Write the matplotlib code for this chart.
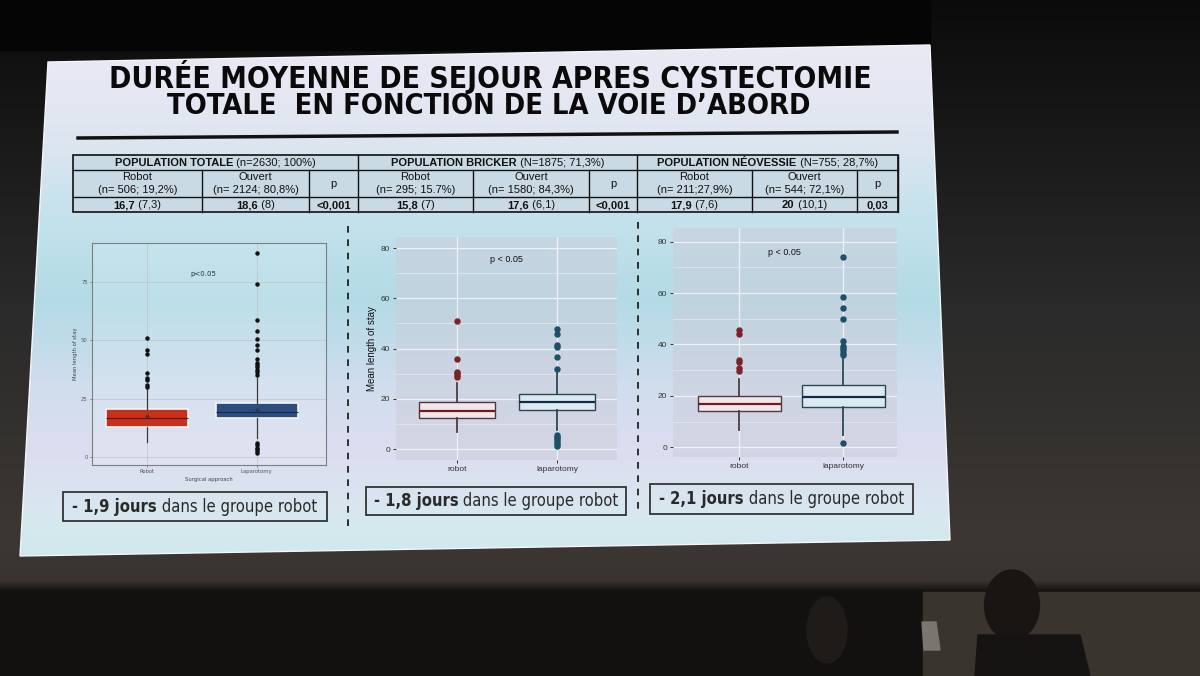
import matplotlib
matplotlib.use('Agg')
import matplotlib.pyplot as plt
import numpy as np
from matplotlib import font_manager
from matplotlib.patches import Polygon, Rectangle, Ellipse

# ---- donnees du tableau
group_names = ['POPULATION TOTALE', 'POPULATION BRICKER', 'POPULATION NÉOVESSIE']
group_sizes = [' (n=2630; 100%)', ' (N=1875; 71,3%)', ' (N=755; 28,7%)']
robot_n = ['(n= 506; 19,2%)', '(n= 295; 15.7%)', '(n= 211;27,9%)']
open_n = ['(n= 2124; 80,8%)', '(n= 1580; 84,3%)', '(n= 544; 72,1%)']
robot_mean = ['16,7', '15,8', '17,9']
robot_sd = [' (7,3)', ' (7)', ' (7,6)']
open_mean = ['18,6', '17,6', '20']
open_sd = [' (8)', ' (6,1)', ' (10,1)']
p_values = ['<0,001', '<0,001', '0,03']
diff_days = ['- 1,9 jours', '- 1,8 jours', '- 2,1 jours']

# ---- boxplot 1 (population totale)
p1_labels = ['Robot', 'Laparotomy']
p1_q1 = [12.8, 16.6]
p1_med = [16.7, 19.5]
p1_q3 = [20.6, 23.3]
p1_lo = [6.6, 8.0]
p1_hi = [29.5, 34.0]
p1_mean = [17.5, 20.3]
p1_fliers = [[30, 31, 33, 34, 36, 44, 46, 51],
             [1.7, 2.5, 3.3, 4, 5, 6, 35, 36.6, 37.5, 38.5, 39.5, 40.5, 42,
              46, 48, 50.5, 54.2, 58.8, 74.4, 87.7]]

# ---- boxplot 2 (bricker)
p2_labels = ['robot', 'laparotomy']
p2_q1 = [12.3, 15.4]
p2_med = [15.2, 18.7]
p2_q3 = [18.9, 22.0]
p2_lo = [7.0, 7.7]
p2_hi = [26.3, 31.6]
p2_fliers = [[28.9, 29.5, 30.2, 30.9, 35.9, 50.8],
             [1.3, 2, 2.8, 3.5, 4.3, 5, 5.7, 32, 36.7, 40.6, 41.3, 45.9, 48]]

# ---- boxplot 3 (neovessie)
p3_labels = ['robot', 'laparotomy']
p3_q1 = [14.1, 15.8]
p3_med = [16.9, 19.5]
p3_q3 = [20.1, 24.2]
p3_lo = [6.7, 4.8]
p3_hi = [26.4, 34.5]
p3_fliers = [[29.7, 30.7, 33, 33.9, 43.9, 45.6],
             [1.5, 35.9, 36.8, 37.7, 38.6, 39.5, 41.5, 50, 54.1, 58.5, 74.1]]

W, H = 1200, 676
fig = plt.figure(figsize=(12, 6.76), dpi=100)
fig.patch.set_facecolor('#141414')

bg = fig.add_axes([0, 0, 1, 1])
bg.set_xlim(0, W)
bg.set_ylim(H, 0)
bg.axis('off')
bg.set_zorder(0)

# police etroite si disponible (sinon Liberation Sans)
narrow = ('Liberation Sans', 'normal')
for f in font_manager.fontManager.ttflist:
    st = f.stretch
    if 'Narrow' in f.name or 'Condensed' in f.name or st in ('condensed', 'semi-condensed') \
            or (isinstance(st, int) and st < 500):
        narrow = (f.name, st)
        break


def vgrad(stops, n=400):
    ys = np.linspace(0, 1, n)
    pos = [s[0] for s in stops]
    cols = [matplotlib.colors.to_rgb(s[1]) for s in stops]
    arr = np.zeros((n, 1, 3))
    for k in range(3):
        arr[:, 0, k] = np.interp(ys, pos, [c[k] for c in cols])
    return arr


# salle (fond sombre)
room = vgrad([(0, '#0b0b0b'), (0.45, '#2a2a2a'), (0.8, '#3c3733'),
              (0.86, '#3a3430'), (0.875, '#141210'), (1, '#121110')])
bg.imshow(room, extent=(0, W, H, 0), aspect='auto', zorder=0)
bg.add_patch(Rectangle((923, 592), 277, 84, color='#3a342f', zorder=1))
bg.add_patch(Rectangle((0, 0), 930, 50, color='#050505', zorder=1))
# silhouettes
bg.add_patch(Ellipse((827, 630), 40, 66, color='#1f1b18', zorder=2))
bg.add_patch(Ellipse((1012, 605), 55, 70, color='#181513', zorder=2))
bg.add_patch(Polygon([(978, 635), (1080, 635), (1090, 676), (975, 676)],
                     color='#161412', zorder=2))
bg.add_patch(Polygon([(922, 622), (936, 622), (940, 650), (924, 650)],
                     color='#7a7570', zorder=2))

# diapositive
slide_pts = [(48, 62), (930, 45), (950, 540), (20, 556)]
slide = Polygon(slide_pts, closed=True, facecolor='none', edgecolor='#f4f6f8',
                lw=1.0, zorder=3)
bg.add_patch(slide)
sl = vgrad([(0, '#eae9f4'), (0.17, '#e0e6f1'), (0.34, '#c4e2ec'),
            (0.5, '#b3dbe6'), (0.66, '#cfdded'), (0.8, '#dddef0'),
            (0.93, '#d7e8ef'), (1, '#cfe9ee')])
im = bg.imshow(sl, extent=(20, 950, 556, 45), aspect='auto', zorder=2)
im.set_clip_path(slide)

renderer = fig.canvas.get_renderer()


def rich(x, y, parts, size, family='Liberation Sans', stretch='normal',
         color='#111111', target=None):
    # parts : liste de (texte, graisse) ; target : largeur voulue en pixels
    items = []
    for s, wgt in parts:
        t = bg.text(0, y, s, fontsize=size, fontweight=wgt, family=family,
                    fontstretch=stretch, color=color, ha='left', va='center',
                    zorder=6)
        items.append(t)
    total = sum(t.get_window_extent(renderer).width for t in items)
    if target:
        for t in items:
            t.set_fontsize(size * target / total)
    widths = [t.get_window_extent(renderer).width for t in items]
    x0 = x - sum(widths) / 2
    for t, w in zip(items, widths):
        t.set_x(x0)
        x0 += w


# titre
rich(490, 77, [('DURÉE MOYENNE DE SEJOUR APRES CYSTECTOMIE', 'bold')], 23,
     family=narrow[0], stretch=narrow[1], color='#0a0a0a', target=762)
rich(489, 106, [('TOTALE  EN FONCTION DE LA VOIE D\u2019ABORD', 'bold')], 23,
     family=narrow[0], stretch=narrow[1], color='#0a0a0a', target=644)
bg.plot([78, 897], [138, 132], color='#111111', lw=2.5, zorder=6)

# tableau
fs = 8.0
cols = [[73, 202, 309, 358], [358, 473, 589, 637], [637, 752, 857, 898]]
top, r1, r2, bot = 155, 170, 197, 212
bg.add_patch(Rectangle((73, top), 898 - 73, bot - top, facecolor='#c9dae5',
                       edgecolor='#111111', lw=1.2, zorder=4))
bg.plot([73, 898], [r1, r1], color='#111111', lw=1.0, zorder=5)
bg.plot([73, 898], [r2, r2], color='#111111', lw=1.0, zorder=5)
for g in range(3):
    c = cols[g]
    for xx in c[1:]:
        bg.plot([xx, xx], [r1 if xx != c[3] else top, bot], color='#111111',
                lw=1.0, zorder=5)
    rich((c[0] + c[3]) / 2, (top + r1) / 2 + 0.5,
         [(group_names[g], 'bold'), (group_sizes[g], 'normal')], fs)
    rich((c[0] + c[1]) / 2, 177.5, [('Robot', 'normal')], fs)
    rich((c[0] + c[1]) / 2, 190, [(robot_n[g], 'normal')], fs)
    rich((c[1] + c[2]) / 2, 177.5, [('Ouvert', 'normal')], fs)
    rich((c[1] + c[2]) / 2, 190, [(open_n[g], 'normal')], fs)
    rich((c[2] + c[3]) / 2, 184, [('p', 'normal')], fs)
    rich((c[0] + c[1]) / 2, 205, [(robot_mean[g], 'bold'), (robot_sd[g], 'normal')], fs)
    rich((c[1] + c[2]) / 2, 205, [(open_mean[g], 'bold'), (open_sd[g], 'normal')], fs)
    rich((c[2] + c[3]) / 2, 205, [(p_values[g], 'bold')], fs)

# separateurs
bg.plot([348, 348], [226, 532], color='#111111', lw=1.2, ls=(0, (4, 4)), zorder=5)
bg.plot([638, 638], [222, 515], color='#111111', lw=1.2, ls=(0, (4, 4)), zorder=5)

# encadres du bas
boxes = [(63, 492, 327, 521), (366, 487, 626, 515), (650, 484, 913, 514)]
for i, (x0, y0, x1, y1) in enumerate(boxes):
    bg.add_patch(Rectangle((x0, y0), x1 - x0, y1 - y0, facecolor='none',
                           edgecolor='#333333', lw=1.3, zorder=5))
    rich((x0 + x1) / 2, (y0 + y1) / 2,
         [(diff_days[i], 'bold'), (' dans le groupe robot', 'normal')], 12,
         family=narrow[0], stretch=narrow[1], color='#2a2a2a', target=245)


def px_axes(x0, y0, x1, y1):
    return fig.add_axes([x0 / W, 1 - y1 / H, (x1 - x0) / W, (y1 - y0) / H])


def stats(labels, q1, med, q3, lo, hi, fl, mean=None):
    out = []
    for i in range(len(q1)):
        d = dict(label=labels[i], q1=q1[i], med=med[i], q3=q3[i],
                 whislo=lo[i], whishi=hi[i], fliers=fl[i])
        if mean is not None:
            d['mean'] = mean[i]
        out.append(d)
    return out


# ---- panneau 1
ax1 = px_axes(92, 243, 326, 465)
ax1.set_zorder(2)
ax1.set_facecolor((1, 1, 1, 0.12))
b1 = ax1.bxp(stats(p1_labels, p1_q1, p1_med, p1_q3, p1_lo, p1_hi, p1_fliers, p1_mean),
             positions=[1, 2], widths=0.75, patch_artist=True, showcaps=False,
             showmeans=True,
             whiskerprops=dict(color='#3a3a3a', lw=0.9),
             flierprops=dict(marker='o', markersize=2.2, markerfacecolor='#111111',
                             markeredgecolor='#111111'),
             meanprops=dict(marker='+', markersize=3, markeredgecolor='#333333'),
             medianprops=dict(lw=0.8))
for patch, fc in zip(b1['boxes'], ['#c5311c', '#2c4d80']):
    patch.set_facecolor(fc)
    patch.set_edgecolor('#f4f4f4')
    patch.set_linewidth(1.2)
for m, mc in zip(b1['medians'], ['#5c1208', '#15284a']):
    m.set_color(mc)
ax1.set_xlim(0.5, 2.63)
ax1.set_ylim(-3.4, 91.8)
ax1.set_yticks([0, 25, 50, 75])
ax1.grid(True, color='#bfc8cf', lw=0.6)
ax1.set_axisbelow(True)
for s in ax1.spines.values():
    s.set_color('#7a7f85')
    s.set_linewidth(0.8)
ax1.tick_params(labelsize=3.8, colors='#555555', length=1.5, width=0.5, pad=1.5)
ax1.set_ylabel('Mean length of stay', fontsize=3.8, color='#444444', labelpad=2)
ax1.set_xlabel('Surgical approach', fontsize=3.8, color='#444444', labelpad=2)
ax1.text(1.51, 78.5, 'p<0.05', fontsize=5, color='#223344', ha='center', va='center')


def gg_panel(rect, labels, q1, med, q3, lo, hi, fl, ylim, xlim, width, ptxt, ylab):
    ax = px_axes(*rect)
    ax.set_zorder(2)
    ax.set_facecolor((0.80, 0.80, 0.85, 0.5))
    b = ax.bxp(stats(labels, q1, med, q3, lo, hi, fl), positions=[1, 2],
               widths=width, patch_artist=True, showcaps=False,
               medianprops=dict(lw=1.6),
               flierprops=dict(marker='o', markersize=3.6))
    face = ['#f3e6e8', '#dce9f1']
    edge = ['#4d3b3e', '#2c4652']
    medc = ['#6e1c22', '#112d45']
    flc = ['#7a2228', '#1c5068']
    for i in range(2):
        b['boxes'][i].set_facecolor(face[i])
        b['boxes'][i].set_edgecolor(edge[i])
        b['boxes'][i].set_linewidth(1.0)
        b['medians'][i].set_color(medc[i])
        for w in b['whiskers'][2 * i:2 * i + 2]:
            w.set_color(edge[i])
            w.set_linewidth(1.3)
        b['fliers'][i].set_markerfacecolor(flc[i])
        b['fliers'][i].set_markeredgecolor(flc[i])
    ax.set_xlim(*xlim)
    ax.set_ylim(*ylim)
    ax.set_yticks([0, 20, 40, 60, 80])
    ax.set_yticks([10, 30, 50, 70], minor=True)
    ax.grid(True, which='major', color='#eef2f6', lw=0.9)
    ax.grid(True, which='minor', axis='y', color='#e4eaf0', lw=0.5)
    ax.set_axisbelow(True)
    for s in ax.spines.values():
        s.set_visible(False)
    ax.tick_params(which='major', labelsize=6, colors='#333333', length=2,
                   width=0.7, pad=2)
    ax.tick_params(which='minor', length=0)
    for lab in ax.get_xticklabels() + ax.get_yticklabels():
        lab.set_family('Liberation Sans')
    if ylab:
        ax.set_ylabel('Mean length of stay', fontsize=7, color='#111111',
                      family='Liberation Sans', labelpad=3)
    ax.text(ptxt[0], ptxt[1], 'p < 0.05', fontsize=6.5, color='#111111',
            family='Liberation Sans', ha='center', va='center')
    return ax


gg_panel((396, 237, 617, 460), p2_labels, p2_q1, p2_med, p2_q3, p2_lo, p2_hi,
         p2_fliers, (-4.3, 84.4), (0.39, 2.6), 0.76, (1.49, 75.3), True)
gg_panel((673, 228, 897, 457), p3_labels, p3_q1, p3_med, p3_q3, p3_lo, p3_hi,
         p3_fliers, (-3.8, 85.3), (0.36, 2.52), 0.8, (1.43, 75.7), False)

fig.savefig('out.png', dpi=100, facecolor=fig.get_facecolor())
